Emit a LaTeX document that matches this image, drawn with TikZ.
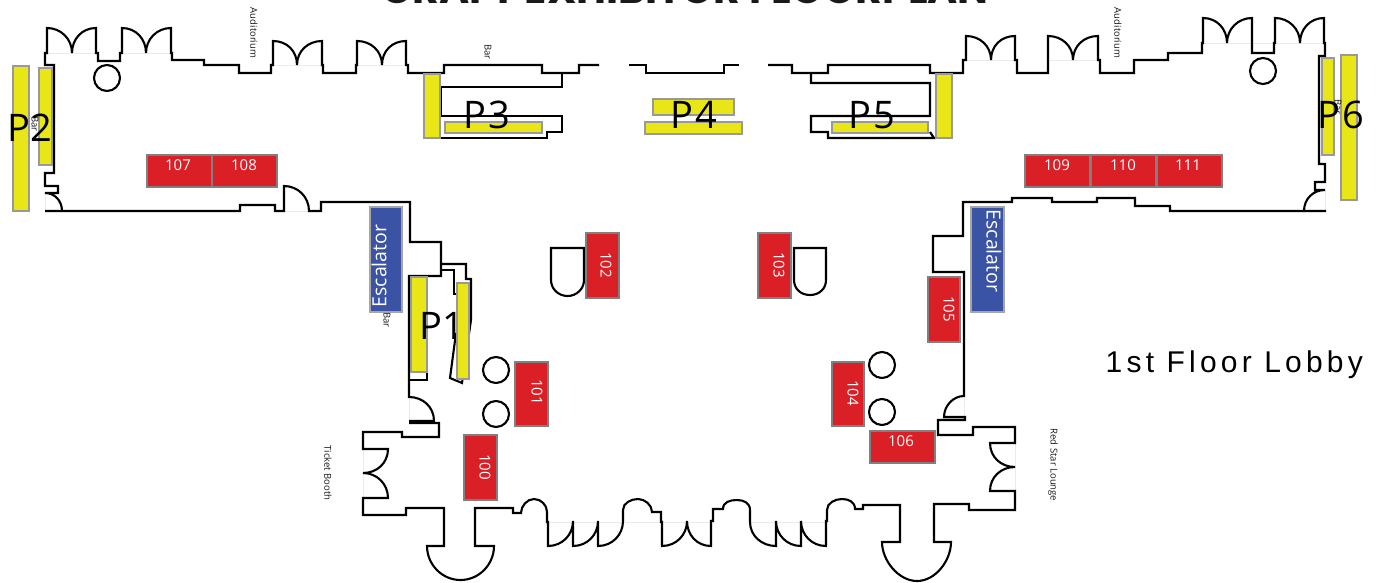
\documentclass[tikz,border=0pt]{standalone}
\usepackage{fontspec}
\setmainfont{Open Sans}
\newfontfamily\lobbyfont[LetterSpace=14]{Liberation Sans}
\newfontfamily\titlefont{Poppins}
\definecolor{boothred}{HTML}{DA1F26}
\definecolor{padyellow}{HTML}{E9E617}
\definecolor{escblue}{HTML}{3A53A4}
\tikzstyle{wall}=[line width=2.1,draw=black,line join=miter]
\tikzstyle{sill}=[line width=0.5,draw=black!8]
\tikzstyle{booth}=[line width=1.2,draw=black!50,fill=boothred]
\tikzstyle{pad}=[line width=1.2,draw=black!40,fill=padyellow]
\tikzstyle{escalator}=[line width=1.2,draw=black!35,fill=escblue]
\tikzstyle{num}=[text=white,inner sep=0,font=\fontsize{15}{15}\selectfont]
\tikzstyle{esc}=[text=white,inner sep=0,font=\fontsize{19.5}{20}\selectfont]
\tikzstyle{padname}=[text=black,inner sep=0,anchor=base west,font=\fontsize{38}{38}\selectfont]
\tikzstyle{room}=[text=black!90,inner sep=0,font=\fontsize{9.5}{9.5}\selectfont]
\begin{document}
\begin{tikzpicture}[x=1pt,y=-1pt]
	\def\k{14}   % control arm of a door arc
	\def\a{7}    % control arm of an arch
	\def\b{18.5} % control arm of a big door
	\useasboundingbox (0,0) rectangle (1380,582);
	\fill[white] (0,0) rectangle (1380,582);

	% Title, cut by the page
	\node[inner sep=0,anchor=base,font=\titlefont\bfseries\fontsize{41}{41}\selectfont,text=black!90] (title) at (685,3.5) {CRAFT EXHIBITOR FLOORPLAN};

	% Door sills
	\foreach \xa/\ya/\xb/\yb in {47/53/96/53,122/53/171/53,273/65/322/65,357/65/406/65,548/522/711/522,750/522/826/522,966/60/1015/60,1048/60/1098/60,1203/43/1325/43,284/211/309/211,409/397/409/421,363/449/363/498,1015/443/1015/491,964/396/964/417,1325/190/1325/211,45/193/45/211}
		\draw[sill] (\xa,\ya) -- (\xb,\yb);

	% North-west wall
	\draw[wall] (62,211) .. controls +(0,-10) and +(10,0) .. (45,193) -- (58,193) -- (58,186) -- (45,186) -- (45,173) -- (54,173) -- (54,65) -- (45,65) -- (45,53) -- (47,53) -- (47,28)
		.. controls +(\k,0) and +(0,-\k) .. (72,53) .. controls +(0,-\k) and +(-\k,0) .. (96,28) -- (96,53) -- (98,53) -- (98,61) -- (120,61) -- (120,53) -- (122,53) -- (122,28)
		.. controls +(\k,0) and +(0,-\k) .. (146,53) .. controls +(0,-\k) and +(-\k,0) .. (171,28) -- (171,53) -- (172,53) -- (172,60) -- (204,60) -- (204,65) -- (239,65) -- (239,73) -- (271,73) -- (271,65) -- (273,65) -- (273,41)
		.. controls +(\k,0) and +(0,-\k) .. (297,65) .. controls +(0,-\k) and +(-\k,0) .. (322,41) -- (322,65) -- (323,65) -- (323,73) -- (356,73) -- (356,65) -- (357,65) -- (357,41)
		.. controls +(\k,0) and +(0,-\k) .. (382,65) .. controls +(0,-\k) and +(-\k,0) .. (406,41) -- (406,65) -- (408,65) -- (408,73) -- (444,73) -- (444,65) -- (542,65) -- (542,73) -- (579,73) -- (579,65) -- (599,65);
	\draw[wall] (562,73) -- (562,87) -- (441,87) -- (441,116) -- (562,116) -- (562,132) -- (547,132) -- (547,138) -- (441,138);

	% Centre wall
	\draw[wall] (629,65) -- (646,65) -- (646,73) -- (724,73) -- (724,65) -- (739,65);

	% South wall, west to east
	\draw[wall] (45,211) -- (240,211) -- (240,205) -- (275,205) -- (275,211) -- (284,211) -- (284,186) .. controls +(\k,0) and +(0,-\k) .. (309,211) -- (321,211) -- (321,202) -- (410,202) -- (410,242) -- (441,242) -- (441,276) -- (409,276) -- (409,397) .. controls +(\k,0) and +(0,-\k) .. (434,421) -- (409,421);
	\draw[wall] (409,423) -- (439,423) -- (439,437) -- (402,437) -- (402,432) -- (363,432) -- (363,449) -- (388,449)
		.. controls +(0,\k) and +(\k,0) .. (363,473) .. controls +(\k,0) and +(0,-\k) .. (388,498) -- (363,498) -- (363,515) -- (406,515) -- (406,508) -- (444,508) -- (444,546) -- (427,546)
		.. controls +(0,\b) and +(-\b,0) .. (460.5,580) .. controls +(\b,0) and +(0,\b) .. (494,546) -- (475,546) -- (475,508) -- (513,508) -- (513,513) -- (521,513)
		.. controls +(0,-\a) and +(-\a,0) .. (534,499) .. controls +(\a,0) and +(0,-\a) .. (547,512) -- (547,522) -- (548,522) -- (548,546)
		.. controls +(\k,0) and +(0,\k) .. (573,521) -- (573,546) .. controls +(\k,0) and +(0,\k) .. (598,521) -- (598,546) .. controls +(\k,0) and +(0,\k) .. (623,521) -- (623,510)
		.. controls +(0,-\a) and +(-\a,0) .. (638,499) .. controls +(\a,0) and +(0,-\a) .. (652,512) -- (661,512) -- (661,522) -- (662,522) -- (662,546)
		.. controls +(\k,0) and +(0,\k) .. (687,521) .. controls +(0,\k) and +(-\k,0) .. (711,546) -- (711,521) -- (713,521) -- (713,509) -- (723,509)
		.. controls +(0,-\a) and +(-\a,0) .. (737,500) .. controls +(\a,0) and +(0,-\a) .. (750,510) -- (750,522)
		.. controls +(0,\k) and +(-\k,0) .. (776,546) -- (776,521) .. controls +(0,\k) and +(-\k,0) .. (801,546) -- (801,521) .. controls +(0,\k) and +(-\k,0) .. (826,546) -- (826,521) -- (827,521) -- (827,510)
		.. controls +(0,-\a) and +(-\a,0) .. (842,499) .. controls +(\a,0) and +(0,-\a) .. (855,509) -- (863,509) -- (863,505) -- (900,505) -- (900,542) -- (882,542)
		.. controls +(0,\b) and +(-\b,0) .. (917,581) .. controls +(\b,0) and +(0,\b) .. (951,542) -- (934,542) -- (934,504) -- (969,504) -- (969,510) -- (1015,510) -- (1015,491) -- (990,491)
		.. controls +(0,-\k) and +(-\k,0) .. (1015,467) .. controls +(-\k,0) and +(0,\k) .. (990,443) -- (1015,443) -- (1015,427) -- (973,427) -- (973,435) -- (938,435) -- (938,420) -- (965,420) -- (965,417) -- (944,417)
		.. controls +(0,-11) and +(-11,0) .. (964,396) -- (964,272) -- (933,272) -- (933,236) -- (963,236) -- (963,202) -- (1012,202) -- (1012,198) -- (1052,198) -- (1052,202) -- (1097,202) -- (1097,198) -- (1135,198) -- (1135,206) -- (1170,206) -- (1170,211) -- (1326,211);

	% North-east wall
	\draw[wall] (1304,211) .. controls +(0,-12) and +(-12,0) .. (1325,190) -- (1315,190) -- (1315,182) -- (1325,182) -- (1325,164) -- (1319,164) -- (1319,56) -- (1325,56) -- (1325,43) -- (1324,43) -- (1324,18)
		.. controls +(-\k,0) and +(0,-\k) .. (1300,43) .. controls +(0,-\k) and +(\k,0) .. (1275,18) -- (1275,43) -- (1274,43) -- (1274,53) -- (1252,53) -- (1252,18)
		.. controls +(-\k,0) and +(0,-\k) .. (1227,43) .. controls +(0,-\k) and +(\k,0) .. (1203,18) -- (1203,43) -- (1202,43) -- (1202,53) -- (1168,53) -- (1168,60) -- (1134,60) -- (1134,73) -- (1100,73) -- (1100,60) -- (1098,60) -- (1098,36)
		.. controls +(-\k,0) and +(0,-\k) .. (1073,60) .. controls +(0,-\k) and +(\k,0) .. (1048,36) -- (1048,73) -- (1017,73) -- (1017,60) -- (1015,60) -- (1015,36)
		.. controls +(-\k,0) and +(0,-\k) .. (991,60) .. controls +(0,-\k) and +(\k,0) .. (966,36) -- (966,60) -- (963,60) -- (963,73) -- (930,73) -- (930,65) -- (828,65) -- (828,73) -- (792,73) -- (792,65) -- (768,65);
	\draw[wall] (811,73) -- (811,83) -- (930,83) -- (930,116) -- (811,116) -- (811,132) -- (828,132) -- (828,138) -- (934,138) -- (930,132);

	% Bar beside P1
	\draw[wall] (441,264) -- (466,264) -- (466,279) -- (471,279) -- (471,320) -- (462,383) -- (450,378) -- (456,333);
	\draw[wall] (441,270) -- (454,270) -- (454,294) -- (457,294);
	\draw[wall] (409,380) -- (427,380) -- (427,372);

	% Columns
	\foreach \x/\y in {107/78,1263/71,496/370,496/414,882/365,882/412}
		\draw[wall] (\x,\y) circle[radius=13];

	% Round-ended counters
	\draw[wall] (551,280) -- (551,248) -- (584,248) -- (584,280) .. controls +(0,9) and +(9,0) .. (567.5,296) .. controls +(-9,0) and +(0,9) .. cycle;
	\draw[wall] (794,280) -- (794,248) -- (826,248) -- (826,280) .. controls +(0,9) and +(9,0) .. (810,295) .. controls +(-9,0) and +(0,9) .. cycle;

	% Yellow pads
	\foreach \xa/\ya/\xb/\yb in {13/66/29/211,39/68/52/165,424/74/440/138,445/122/542/133,653/99/734/115,645/122/742/134,832/122/928/133,936/74/952/138,1322/58/1334/155,1341/55/1357/200,411/277/427/372,457/283/469/379}
		\fill[pad] (\xa,\ya) rectangle (\xb,\yb);

	% Red booths
	\foreach \xa/\ya/\xb/\yb in {147/155/212/187,212/155/277/187,1025/155/1090/187,1091/155/1156/187,1157/155/1222/187,586/233/619/298,758/233/791/298,515/362/548/426,464/435/497/500,832/362/864/426,928/277/960/342,870/431/935/463}
		\fill[booth] (\xa,\ya) rectangle (\xb,\yb);

	% Escalators
	\fill[escalator] (370,207) rectangle (402,312);
	\fill[escalator] (971,207) rectangle (1004,312);
	\node[esc,rotate=90] (escw) at (379,266) {Escalator};
	\node[esc,rotate=-90] (esce) at (994,251) {Escalator};

	% Booth numbers
	\foreach \n/\x/\y in {107/178/165,108/244/165,109/1057/165,110/1123/165,111/1188/165,106/901/441}
		\node[num] (b\n) at (\x,\y) {\n};
	\foreach \n/\x/\y in {100/485/467,101/537/392,102/606/265,103/779/265,104/853/393,105/949/309}
		\node[num,rotate=-90] (b\n) at (\x,\y) {\n};

	% Room names
	\node[room,rotate=-90] (audw) at (254,33) {Auditorium};
	\node[room,rotate=-90] (aude) at (1118,33) {Auditorium};
	\node[room,rotate=-90] (barn) at (488,52) {Bar};
	\node[room,rotate=-90] (barw) at (35,124) {Bar};
	\node[room,rotate=-90] (bare) at (1338,107) {Bar};
	\node[room,rotate=-90] (bars) at (387,320) {Bar};
	\node[room,rotate=-90] (booth) at (328,473) {Ticket Booth};
	\node[room,rotate=-90] (lounge) at (1053,465) {Red Star Lounge};

	% Pad names
	\node[padname] (p1) at (419,339) {P1};
	\node[padname] (p2) at (7,141) {P2};
	\node[padname] (p3) at (463,128) {P\kern2.5pt 3};
	\node[padname] (p4) at (670,128) {P\kern2.5pt 4};
	\node[padname] (p5) at (848,128) {P\kern2.5pt 5};
	\node[padname] (p6) at (1317,128) {P\kern2.5pt 6};

	\node[inner sep=0,anchor=base west,font=\lobbyfont\fontsize{30}{30}\selectfont] (lobby) at (1105.5,372) {1st Floor Lobby};
\end{tikzpicture}
\end{document}
